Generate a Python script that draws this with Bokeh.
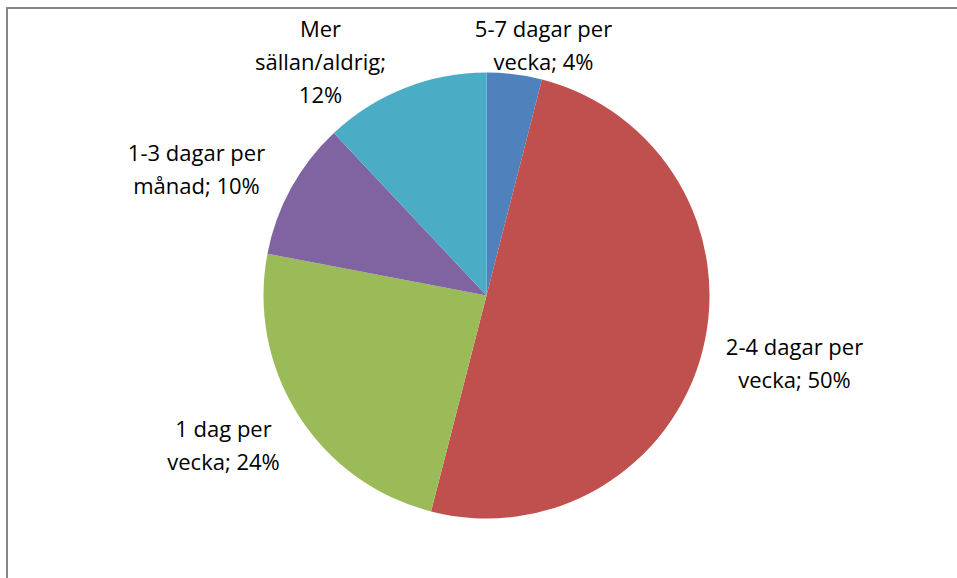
import math
from bokeh.plotting import figure
from bokeh.models import Range1d, ColumnDataSource
from bokeh.core.properties import value
from bokeh.embed import file_html
from bokeh.resources import INLINE

# Data
categories = ["5-7 dagar per vecka", "2-4 dagar per vecka", "1 dag per vecka",
              "1-3 dagar per månad", "Mer sällan/aldrig"]
shares = [4, 50, 24, 10, 12]
label_texts = ["5-7 dagar per\nvecka; 4%", "2-4 dagar per\nvecka; 50%", "1 dag per\nvecka; 24%",
               "1-3 dagar per\nmånad; 10%", "Mer\nsällan/aldrig;\n12%"]
colors = ["#4F81BD", "#C0504D", "#9BBB59", "#8064A2", "#4BACC6"]

# Layout (pixel-like data units)
W, H = 957, 578
cx, cy, r = 486, 283, 223
label_x = [543, 794, 223, 196, 320]
label_y = [534, 216, 134, 410, 518]

total = sum(shares)
starts, ends = [], []
a = math.pi / 2
for s in shares:
    starts.append(a)
    a -= 2 * math.pi * s / total
    ends.append(a)

src = ColumnDataSource(dict(cat=categories, share=shares, start=starts, end=ends, color=colors))

p = figure(width=W, height=H, x_range=Range1d(0, W), y_range=Range1d(0, H),
           output_backend="svg", toolbar_location=None, min_border=0)
p.axis.visible = False
p.grid.visible = False
p.outline_line_color = None
p.background_fill_color = "white"
p.border_fill_color = "white"

p.wedge(x=cx, y=cy, radius=r, start_angle="start", end_angle="end", direction="clock",
        fill_color="color", line_color=None, source=src)

lsrc = ColumnDataSource(dict(x=label_x, y=label_y, t=label_texts))
p.text(x="x", y="y", text="t", source=lsrc, text_align="center", text_baseline="middle",
       text_font=value("Open Sans"), text_font_size="22px", text_color="#000000",
       text_line_height=1.1)

# chart frame (left and top edges visible)
p.segment(x0=[6.5, 5.5], y0=[0, 570.5], x1=[6.5, W], y1=[571.5, 570.5],
          line_color="#868686", line_width=2)

open("out.html", "w").write(file_html(p, INLINE))
